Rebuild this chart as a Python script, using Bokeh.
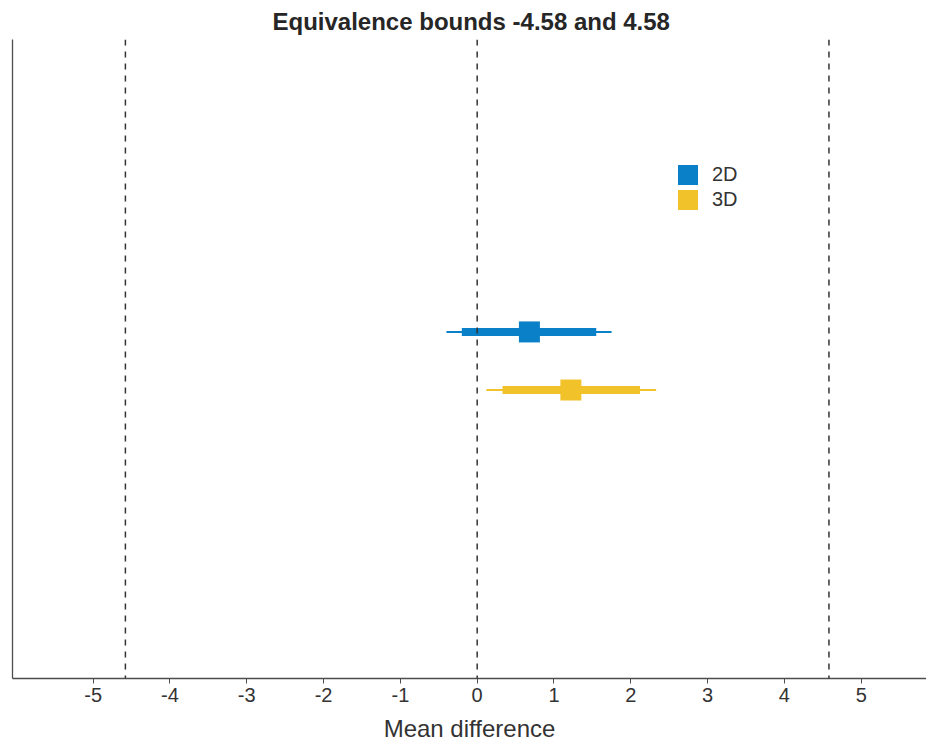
from bokeh.plotting import figure
from bokeh.models import Span, Legend, LegendItem, FixedTicker, ColumnDataSource, Range1d
from bokeh.embed import file_html
from bokeh.resources import INLINE

# ---- data ----
groups = ["2D", "3D"]
group_pos = [2, 1]
means = [0.68, 1.22]
ci90_low = [-0.20, 0.33]
ci90_high = [1.55, 2.12]
ci95_low = [-0.40, 0.12]
ci95_high = [1.75, 2.33]
colors = ["#0A80C8", "#F2C22A"]
bounds = [-4.58, 0.0, 4.58]
x_ticks = [-5, -4, -3, -2, -1, 0, 1, 2, 3, 4, 5]
x_tick_labels = ["-5", "-4", "-3", "-2", "-1", "0", "1", "2", "3", "4", "5"]
title_text = "Equivalence bounds -4.58 and 4.58"
x_label = "Mean difference"

FONT = "Liberation Sans"
TEXT = "#333333"
AXIS = "#4d4d4d"

p = figure(width=926, height=744, output_backend="svg", toolbar_location=None,
           x_range=Range1d(-6.05, 5.85), y_range=Range1d(-3.966, 7.034),
           min_border_left=12, min_border_right=0, min_border_top=0, min_border_bottom=0)

p.title.text = title_text
p.title.text_font = FONT
p.title.text_font_size = "24px"
p.title.text_font_style = "bold"
p.title.text_color = "#262626"
p.title.align = "left"
p.title.offset = 260
p.title.standoff = 10

p.xgrid.visible = False
p.ygrid.visible = False
p.outline_line_color = None
p.background_fill_color = "white"

# x axis
xa = p.xaxis[0]
xa.ticker = FixedTicker(ticks=x_ticks)
xa.major_label_overrides = {t: s for t, s in zip(x_ticks, x_tick_labels)}
xa.major_label_text_font = FONT
xa.major_label_text_font_size = "20px"
xa.major_label_text_color = TEXT
xa.major_tick_out = 5
xa.major_tick_in = 0
xa.minor_tick_out = 0
xa.minor_tick_in = 0
xa.major_tick_line_color = AXIS
xa.axis_line_color = AXIS
xa.axis_line_width = 1.3
xa.major_label_standoff = 4
xa.axis_label = x_label
xa.axis_label_text_font = FONT
xa.axis_label_text_font_size = "24px"
xa.axis_label_text_font_style = "normal"
xa.axis_label_text_color = TEXT
xa.axis_label_standoff = 10

# y axis (line only)
ya = p.yaxis[0]
ya.ticker = FixedTicker(ticks=[])
ya.major_tick_out = 0
ya.major_tick_in = 0
ya.minor_tick_out = 0
ya.minor_tick_in = 0
ya.major_label_text_font_size = "0px"
ya.major_label_standoff = 0
ya.axis_line_color = AXIS
ya.axis_line_width = 1.3

# dashed reference lines
for b in bounds:
    p.add_layout(Span(location=b, dimension="height", line_color="#333333",
                      line_width=1.5, line_dash="6 6"))

src = ColumnDataSource(dict(
    y=group_pos, mean=means, lo90=ci90_low, hi90=ci90_high,
    lo95=ci95_low, hi95=ci95_high, color=colors, name=groups))

p.segment(x0="lo95", y0="y", x1="hi95", y1="y", line_color="color", line_width=2, source=src)
p.segment(x0="lo90", y0="y", x1="hi90", y1="y", line_color="color", line_width=8, source=src)

items = []
for i, g in enumerate(groups):
    r = p.rect(x=[means[i]], y=[group_pos[i]], width=21, height=21,
               width_units="screen", height_units="screen",
               fill_color=colors[i], line_color=None)
    items.append(LegendItem(label=g, renderers=[r]))

legend = Legend(items=items, location=(663, 466), orientation="vertical",
                glyph_width=25, glyph_height=25, spacing=0, padding=0, margin=0,
                label_standoff=12, label_text_font=FONT, label_text_font_size="20px",
                label_text_color=TEXT, border_line_color=None, background_fill_alpha=0,
                label_height=25)
p.add_layout(legend, "center")

open("out.html", "w").write(file_html(p, INLINE))
